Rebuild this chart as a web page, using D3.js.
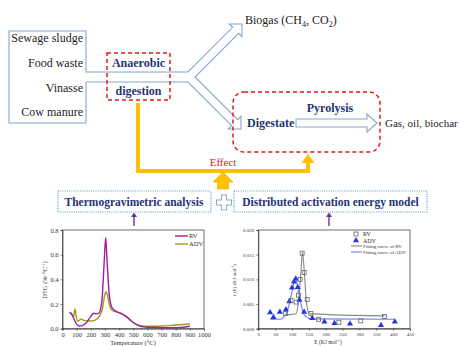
<!DOCTYPE html>
<html><head><meta charset="utf-8">
<script src="https://cdn.jsdelivr.net/npm/d3@7"></script>
<style>body{margin:0;background:#fff}svg{display:block}text{font-family:"Liberation Serif","Times New Roman",serif}</style>
</head><body><div id="c"></div>
<script>
// ---------- data ----------
const feedstocks = ["Sewage sludge","Food waste","Vinasse","Cow manure"];
// TG chart (DTG vs Temperature)
const rvTemp = [50,65,80,100,120,140,170,200,220,240,260,280,295,305,315,330,350,380,420,460,500,550,600,700,800,900];
const rvDTG  = [0.135,0.12,0.08,0.035,0.022,0.025,0.05,0.10,0.125,0.12,0.13,0.25,0.55,0.74,0.55,0.28,0.17,0.14,0.12,0.09,0.05,0.02,0.012,0.008,0.008,0.02];
const advTemp = [50,65,78,88,95,105,120,130,150,200,230,260,280,300,308,320,335,350,400,450,500,550,600,700,800,900];
const advDTG  = [0.13,0.115,0.095,0.16,0.11,0.06,0.07,0.078,0.068,0.062,0.07,0.10,0.15,0.28,0.30,0.26,0.18,0.15,0.13,0.10,0.05,0.025,0.02,0.022,0.03,0.038];
const tgXTicks = [0,100,200,300,400,500,600,700,800,900,1000];
const tgYTicks = [0,0.2,0.4,0.6,0.8];
// DAEM chart (f(E) vs E)
const rvE = [81,97,112,119,124,130,136,145,156,179,239,304,374];
const rvF = [0.0031,0.0057,0.0054,0.0068,0.0100,0.0153,0.0114,0.0059,0.0031,0.0019,0.0013,0.0016,0.0025];
const advE = [35,45,64,82,92,100,106,111,117,122,136,160,196,226,272,364,405];
const advF = [0.0033,0.0023,0.0034,0.0039,0.0055,0.0083,0.0095,0.0101,0.0084,0.0058,0.0034,0.0021,0.0014,0.0011,0.0010,0.0007,0.0014];
const fitRvE = [80,100,112,120,126,131,136,142,150,160,375];
const fitRvF = [0.0028,0.0029,0.0031,0.006,0.011,0.0155,0.012,0.006,0.0032,0.003,0.0026];
const fitAdvE = [35,64,82,92,100,111,118,125,138,158,405];
const fitAdvF = [0.0019,0.0019,0.003,0.005,0.0075,0.0103,0.008,0.0055,0.0026,0.002,0.0019];
const daemXTicks = [0,50,100,150,200,250,300,350,400,450];
const daemYTicks = [0,0.005,0.010,0.015,0.020];

// ---------- drawing ----------
const W=461,H=346;
const svg=d3.select("#c").append("svg").attr("width",W).attr("height",H);
svg.append("rect").attr("width",W).attr("height",H).attr("fill","#fff");
const BLUE="#86A6CC", NAVY="#1F3575", RED="#E01A1A", ORANGE="#FFC000";

// feedstock box + forked hollow arrow
const s=Math.SQRT1_2;
const V=[195,77];
const hw=4.24, hh=9, hl=9;
function add(p,v,t){return [p[0]+v[0]*t,p[1]+v[1]*t];}
const d1=[s,-s], n1=[s,s], T1=[242,24], B1=add(T1,d1,-hl);
const d2=[s,s], n2=[s,-s], T2=[241,129], B2=add(T2,d2,-hl);
const pts=[[86,72],[188,72],add(B1,n1,-hw),add(B1,n1,-hh),T1,add(B1,n1,hh),add(B1,n1,hw),V,
  add(B2,n2,hw),add(B2,n2,hh),T2,add(B2,n2,-hh),add(B2,n2,-hw),[188,82],[86,82],[86,123],[9,123],[9,31],[86,31]];
svg.append("path").attr("d","M"+pts.map(p=>p.join(",")).join("L")+"Z")
  .attr("fill","none").attr("stroke",BLUE).attr("stroke-width",1.1);

const fy=[38,63,88,112];
feedstocks.forEach((f,i)=>svg.append("text").attr("x",83).attr("y",fy[i]+4).attr("text-anchor","end")
  .attr("font-size",12).attr("fill","#222").text(f));

// Biogas
const bg=svg.append("text").attr("x",245).attr("y",24).attr("font-size",12).attr("fill","#222");
bg.append("tspan").text("Biogas (CH");
bg.append("tspan").attr("font-size",8).attr("dy",3).text("4");
bg.append("tspan").attr("dy",-3).text(", CO");
bg.append("tspan").attr("font-size",8).attr("dy",3).text("2");
bg.append("tspan").attr("dy",-3).text(")");

// Anaerobic digestion dashed box
svg.append("rect").attr("x",107).attr("y",53).attr("width",63).attr("height",47)
  .attr("fill","none").attr("stroke",RED).attr("stroke-width",1.5).attr("stroke-dasharray","4,3");
svg.append("text").attr("x",138.5).attr("y",67).attr("text-anchor","middle").attr("font-size",12)
  .attr("font-weight","bold").attr("fill",NAVY).text("Anaerobic");
svg.append("text").attr("x",138.5).attr("y",95).attr("text-anchor","middle").attr("font-size",12)
  .attr("font-weight","bold").attr("fill",NAVY).text("digestion");

// orange effect line
svg.append("path").attr("d","M138,103V171H308V162").attr("fill","none").attr("stroke",ORANGE).attr("stroke-width",4);
svg.append("path").attr("d","M301.5,163L314.5,163L308,154Z").attr("fill",ORANGE);
svg.append("text").attr("x",223).attr("y",166).attr("text-anchor","middle").attr("font-size",11).attr("fill",RED).text("Effect");

// pyrolysis dashed rounded box
svg.append("rect").attr("x",233).attr("y",92).attr("width",147).attr("height",60).attr("rx",11)
  .attr("fill","none").attr("stroke",RED).attr("stroke-width",1.5).attr("stroke-dasharray","4,3");
svg.append("text").attr("x",330).attr("y",112).attr("text-anchor","middle").attr("font-size",12)
  .attr("font-weight","bold").attr("fill",NAVY).text("Pyrolysis");
svg.append("text").attr("x",247).attr("y",127).attr("font-size",12)
  .attr("font-weight","bold").attr("fill",NAVY).text("Digestate");
svg.append("path").attr("d","M296,119H367V114L377,123L367,132V127H296Z").attr("fill","#fff")
  .attr("stroke",BLUE).attr("stroke-width",1.1);
svg.append("text").attr("x",385).attr("y",127).attr("font-size",11).attr("fill","#222").text("Gas, oil, biochar");

// orange block arrow
svg.append("path").attr("d","M223,172L233,182H228.5V189H217.5V182H213Z").attr("fill",ORANGE).attr("stroke","#E0A800").attr("stroke-width",0.6);

// dotted boxes
[[58,153,134,"Thermogravimetric analysis"],[234,193,330.5,"Distributed activation energy model"]].forEach(b=>{
  svg.append("rect").attr("x",b[0]).attr("y",191).attr("width",b[1]).attr("height",21)
    .attr("fill","none").attr("stroke","#5B9BD5").attr("stroke-width",1.2).attr("stroke-dasharray","1,1.2");
  svg.append("text").attr("x",b[2]).attr("y",206).attr("text-anchor","middle").attr("font-size",11.5)
    .attr("font-weight","bold").attr("fill",NAVY).text(b[3]);
});
// plus sign
svg.append("path").attr("d","M221.5,195H226.5V200H231.5V205H226.5V210H221.5V205H216.5V200H221.5Z")
  .attr("fill","#fff").attr("stroke","#8EA9CC").attr("stroke-width",1.1);
// purple arrows
[134,329].forEach(x=>{
  svg.append("line").attr("x1",x).attr("x2",x).attr("y1",226).attr("y2",215).attr("stroke","#7030A0").attr("stroke-width",1.4);
  svg.append("path").attr("d",`M${x-3},217L${x},212.5L${x+3},217Z`).attr("fill","#7030A0");
});

// ---------- TG chart ----------
const gx=d3.scaleLinear().domain([0,1000]).range([62.5,204]);
const gy=d3.scaleLinear().domain([0,0.8]).range([328.7,230]);
const g1=svg.append("g");
g1.append("rect").attr("x",62.5).attr("y",230).attr("width",204-62.5).attr("height",98.7).attr("fill","none").attr("stroke","#333").attr("stroke-width",0.7);
const ax1=g1.append("g").attr("transform","translate(0,328.7)").call(d3.axisBottom(gx).tickValues(tgXTicks).tickSize(2).tickPadding(2).tickFormat(d3.format("d")));
const ay1=g1.append("g").attr("transform","translate(62.5,0)").call(d3.axisLeft(gy).tickValues(tgYTicks).tickSize(2).tickPadding(2).tickFormat(d3.format(".1f")));
[ax1,ay1].forEach(a=>{a.select(".domain").attr("stroke","#333").attr("stroke-width",0.7);a.selectAll("line").attr("stroke","#333").attr("stroke-width",0.6);
  a.selectAll("text").attr("font-size",6.5).attr("fill","#333").attr("font-family","Liberation Serif");});
const line=d3.line().curve(d3.curveMonotoneX);
g1.append("path").attr("d",line(advTemp.map((t,i)=>[gx(t),gy(advDTG[i])]))).attr("fill","none").attr("stroke","#9C9C14").attr("stroke-width",1.4);
g1.append("path").attr("d",line(rvTemp.map((t,i)=>[gx(t),gy(rvDTG[i])]))).attr("fill","none").attr("stroke","#A01EA8").attr("stroke-width",1.4);
[["RV","#A01EA8",236],["ADV","#9C9C14",244]].forEach(l=>{
  g1.append("line").attr("x1",175).attr("x2",188).attr("y1",l[2]).attr("y2",l[2]).attr("stroke",l[1]).attr("stroke-width",1.4);
  g1.append("text").attr("x",189).attr("y",l[2]+2.3).attr("font-size",6.5).attr("fill","#333").text(l[0]);
});
const yl1=g1.append("text").attr("transform","translate(47,280) rotate(-90)").attr("text-anchor","middle").attr("font-size",6.5).attr("fill","#333");
yl1.append("tspan").text("DTG (%·°C");
yl1.append("tspan").attr("font-size",4.5).attr("dy",-2.5).text("-1");
yl1.append("tspan").attr("dy",2.5).text(")");
g1.append("text").attr("x",133).attr("y",345).attr("text-anchor","middle").attr("font-size",6.5).attr("fill","#333").text("Temperature (°C)");

// ---------- DAEM chart ----------
const ex=d3.scaleLinear().domain([0,450]).range([258.3,410]);
const ey=d3.scaleLinear().domain([0,0.020]).range([328.7,230]);
const g2=svg.append("g");
g2.append("rect").attr("x",258.3).attr("y",230).attr("width",410-258.3).attr("height",98.7).attr("fill","none").attr("stroke","#333").attr("stroke-width",0.7);
const ax2=g2.append("g").attr("transform","translate(0,328.7)").call(d3.axisBottom(ex).tickValues(daemXTicks).tickSize(2).tickPadding(2).tickFormat(d3.format("d")));
const ay2=g2.append("g").attr("transform","translate(258.3,0)").call(d3.axisLeft(ey).tickValues(daemYTicks).tickSize(2).tickPadding(2).tickFormat(d3.format(".3f")));
[ax2,ay2].forEach(a=>{a.select(".domain").attr("stroke","#333").attr("stroke-width",0.7);a.selectAll("line").attr("stroke","#333").attr("stroke-width",0.6);
  a.selectAll("text").attr("font-size",5).attr("fill","#333").attr("font-family","Liberation Sans");});
g2.append("path").attr("d",line(fitRvE.map((e,i)=>[ex(e),ey(fitRvF[i])]))).attr("fill","none").attr("stroke","#888").attr("stroke-width",1.1);
g2.append("path").attr("d",line(fitAdvE.map((e,i)=>[ex(e),ey(fitAdvF[i])]))).attr("fill","none").attr("stroke","#6F7FF0").attr("stroke-width",1.1);
const tri=d3.symbol().type(d3.symbolTriangle).size(16);
g2.selectAll(".tri").data(advE).join("path").attr("d",tri).attr("transform",(e,i)=>`translate(${ex(e)},${ey(advF[i])})`).attr("fill","#2236E0");
g2.selectAll(".sq").data(rvE).join("rect").attr("x",(e)=>ex(e)-2).attr("y",(e,i)=>ey(rvF[i])-2).attr("width",4).attr("height",4)
  .attr("fill","none").attr("stroke","#666").attr("stroke-width",0.8);
// legend
g2.append("rect").attr("x",354).attr("y",232).attr("width",4).attr("height",4).attr("fill","none").attr("stroke","#666").attr("stroke-width",0.8);
g2.append("text").attr("x",363).attr("y",236).attr("font-size",6).attr("fill","#333").text("RV");
g2.append("path").attr("d",tri).attr("transform","translate(356,240.5)").attr("fill","#2236E0");
g2.append("text").attr("x",363).attr("y",242.5).attr("font-size",6).attr("fill","#333").text("ADV");
g2.append("line").attr("x1",351).attr("x2",362).attr("y1",246).attr("y2",246).attr("stroke","#888").attr("stroke-width",1.1);
g2.append("text").attr("x",363).attr("y",248).attr("font-size",5).attr("fill","#333").text("Fitting curve of RV");
g2.append("line").attr("x1",351).attr("x2",362).attr("y1",252).attr("y2",252).attr("stroke","#6F7FF0").attr("stroke-width",1.1);
g2.append("text").attr("x",363).attr("y",254).attr("font-size",5).attr("fill","#333").text("Fitting curve of ADV");
const yl2=g2.append("text").attr("transform","translate(236,280) rotate(-90)").attr("text-anchor","middle").attr("font-size",5).attr("fill","#333").attr("font-family","Liberation Sans");
yl2.append("tspan").text("f (E) (KJ·mol");
yl2.append("tspan").attr("font-size",3.5).attr("dy",-2).text("-1");
yl2.append("tspan").attr("dy",2).text(")");
const xl2=g2.append("text").attr("x",328).attr("y",344).attr("text-anchor","middle").attr("font-size",5.5).attr("fill","#333").attr("font-family","Liberation Sans");
xl2.append("tspan").text("E (KJ mol");
xl2.append("tspan").attr("font-size",3.8).attr("dy",-2).text("-1");
xl2.append("tspan").attr("dy",2).text(")");
</script></body></html>
